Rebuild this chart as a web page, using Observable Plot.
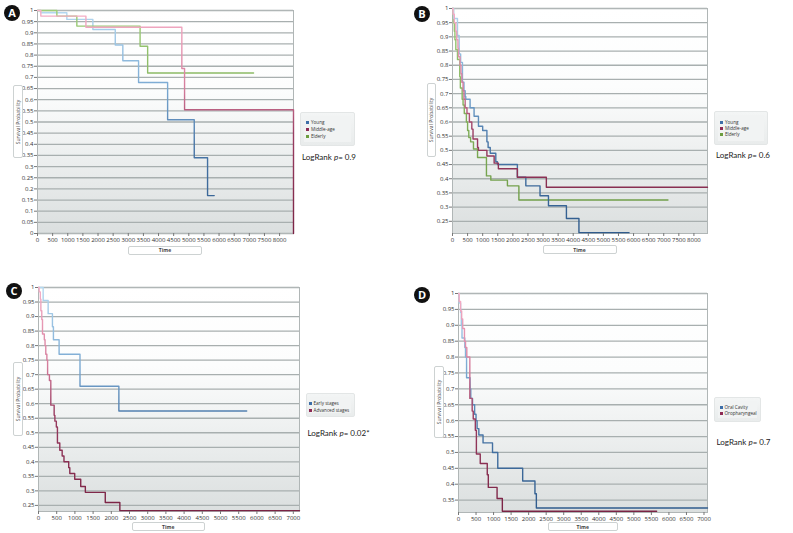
<!DOCTYPE html>
<html><head><meta charset="utf-8">
<script src="https://cdn.jsdelivr.net/npm/d3@7"></script>
<script src="https://cdn.jsdelivr.net/npm/@observablehq/plot@0.6"></script>
<style>
body{margin:0;background:#fff;}
#fig{position:relative;width:793px;height:533px;overflow:hidden;font-family:Lato,"Open Sans",sans-serif;}
.chart{position:absolute;}
.letter{position:absolute;width:16px;height:16px;border-radius:50%;background:#111;color:#fff;font:bold 11px "Open Sans",sans-serif;text-align:center;line-height:16px;}
.ybox,.tbox{position:absolute;border:1px solid #cdd2d2;border-radius:2px;background:#fff;box-sizing:border-box;}
.ybox span{position:absolute;left:50%;top:50%;transform:translate(-50%,-50%) rotate(-90deg);white-space:nowrap;font:5px "Open Sans",sans-serif;color:#444;}
.tbox span{position:absolute;left:0;right:0;top:50%;transform:translateY(-50%);text-align:center;font:bold 5px "Open Sans",sans-serif;color:#444;}
.legend{position:absolute;border:1px solid #e3e6e6;border-radius:2px;background:linear-gradient(#f3f5f5,#e9ecec);box-sizing:border-box;}
.legend .inner{position:absolute;left:3px;right:3px;top:3px;bottom:3px;background:#f1f3f3;}
.item{position:absolute;font:4.6px "Open Sans",sans-serif;color:#333;white-space:nowrap;line-height:5px;}
.item i{display:inline-block;width:3px;height:3px;margin-right:2px;vertical-align:0px;}
.logrank{position:absolute;font:8px Lato,sans-serif;color:#222;white-space:nowrap;}
</style>
</head><body>
<div id="fig"></div>
<script>
// ---- tick values ----
const yTicksA = [0,0.05,0.1,0.15,0.2,0.25,0.3,0.35,0.4,0.45,0.5,0.55,0.6,0.65,0.7,0.75,0.8,0.85,0.9,0.95,1];
const yTicksBC = [0.25,0.3,0.35,0.4,0.45,0.5,0.55,0.6,0.65,0.7,0.75,0.8,0.85,0.9,0.95,1];
const yTicksD = [0.35,0.4,0.45,0.5,0.55,0.6,0.65,0.7,0.75,0.8,0.85,0.9,0.95,1];
const xTicks8000 = [0,500,1000,1500,2000,2500,3000,3500,4000,4500,5000,5500,6000,6500,7000,7500,8000];
const xTicks7000 = [0,500,1000,1500,2000,2500,3000,3500,4000,4500,5000,5500,6000,6500,7000];

// ---- Panel A: age groups ----
const aYoungT  = [0,100,970,1830,2570,2820,3340,4300,5180,5620,5840];
const aYoungS  = [1,0.99,0.96,0.915,0.845,0.775,0.677,0.51,0.34,0.17,0.17];
const aMiddleT = [0,110,1600,4770,4860,8460];
const aMiddleS = [1,0.975,0.925,0.74,0.555,0];
const aElderT  = [0,640,1300,3390,3640,7140];
const aElderS  = [1,0.975,0.93,0.84,0.72,0.72];

// ---- Panel B: age groups ----
const bYoungT  = [0,40,165,220,270,330,380,420,440,583,715,860,1000,1140,1180,1250,1435,1490,2150,2430,2900,3180,3775,4190,5850];
const bYoungS  = [1,0.965,0.905,0.84,0.81,0.74,0.71,0.69,0.68,0.65,0.62,0.585,0.57,0.53,0.51,0.49,0.46,0.45,0.405,0.375,0.34,0.305,0.26,0.21,0.21];
const bMiddleT = [0,20,60,110,140,180,200,250,280,310,350,380,420,480,560,640,680,830,860,1140,1380,1520,2150,3110,8450];
const bMiddleS = [1,0.98,0.95,0.92,0.89,0.86,0.83,0.80,0.77,0.74,0.71,0.68,0.65,0.63,0.60,0.575,0.54,0.51,0.50,0.48,0.455,0.435,0.405,0.37,0.37];
const bElderT  = [0,30,60,80,110,165,240,260,320,350,390,460,500,540,600,695,830,1125,1270,1820,2200,7140];
const bElderS  = [1,0.95,0.92,0.89,0.855,0.82,0.76,0.72,0.68,0.66,0.63,0.60,0.57,0.545,0.53,0.505,0.475,0.41,0.395,0.375,0.325,0.325];

// ---- Panel C: stages ----
const cEarlyT = [0,128,265,383,410,566,1140,2208,5720];
const cEarlyS = [1,0.955,0.91,0.865,0.82,0.77,0.66,0.575,0.575];
const cAdvT   = [0,20,50,65,90,110,160,180,200,230,250,300,338,430,450,490,520,585,650,700,830,860,995,1160,1287,1834,2235,7170];
const cAdvS   = [1,0.985,0.96,0.92,0.89,0.84,0.82,0.80,0.77,0.75,0.70,0.68,0.595,0.56,0.54,0.52,0.465,0.44,0.42,0.40,0.38,0.36,0.34,0.315,0.295,0.26,0.232,0.232];

// ---- Panel D: sites ----
const dOralT = [0,20,60,80,100,180,200,230,330,350,400,460,500,530,580,700,970,1120,1830,2180,2220,7100];
const dOralS = [1,0.97,0.94,0.90,0.86,0.83,0.80,0.735,0.70,0.67,0.65,0.62,0.60,0.575,0.555,0.53,0.50,0.45,0.41,0.37,0.325,0.325];
const dOroT  = [0,20,60,90,120,170,200,237,323,390,420,480,510,620,820,850,1100,1250,5650];
const dOroS  = [1,0.975,0.945,0.92,0.89,0.85,0.83,0.80,0.67,0.63,0.605,0.57,0.495,0.465,0.43,0.39,0.355,0.315,0.315];

const gradStops = {
  blue:   [[0,"#b4d8f0"],[0.35,"#7aa9d2"],[0.6,"#4a77a8"],[1,"#2f5b8c"]],
  maroon: [[0,"#f6b0c8"],[0.35,"#d47d9c"],[0.55,"#9a3d62"],[1,"#7a2344"]],
  green:  [[0,"#9ccc78"],[0.5,"#80ae58"],[1,"#6a9844"]]
};
const fmtY = d => String(+d.toFixed(2));
const fmtX = d => String(d);
const fig = document.getElementById("fig");

function panel(cfg){
  const {id,left,top,width,height,mt,mr,mb,ml,xDomain,yDomain,xTicks,yTicks,series} = cfg;
  const lines = series.map(s => Plot.line(s.t.map((t,i)=>({t, s:s.s[i]})),
      {x:"t", y:"s", curve:"step-after", stroke:`url(#${s.color}-${id})`, strokeWidth:1.4}));
  const svg = Plot.plot({
    width, height, marginTop:mt, marginRight:mr, marginBottom:mb, marginLeft:ml,
    x:{domain:xDomain}, y:{domain:yDomain},
    style:{fontFamily:"'Open Sans',sans-serif", fontSize:"6px", background:"transparent", color:"#333", overflow:"visible"},
    marks:[
      Plot.frame({fill:`url(#bg-${id})`, stroke:null}),
      Plot.gridY(yTicks, {stroke:"#a8afaf", strokeOpacity:1, strokeWidth:1.3}),
      Plot.frame({stroke:"#b0b6b6", strokeWidth:1}),
      ...lines,
      Plot.axisY(yTicks, {tickSize:3, tickPadding:1, tickFormat:fmtY, label:null, fontSize:6, stroke:"#777", fill:"#333"}),
      Plot.axisX(xTicks, {tickSize:3, tickPadding:1, tickFormat:fmtX, label:null, fontSize:6, stroke:"#777", fill:"#333"})
    ]
  });
  const defs = d3.select(svg).insert("defs", ":first-child");
  const y1 = mt, y2 = height - mb;
  const bg = defs.append("linearGradient").attr("id",`bg-${id}`).attr("gradientUnits","userSpaceOnUse")
    .attr("x1",0).attr("x2",0).attr("y1",y1).attr("y2",y2);
  [[0,"#ffffff"],[0.35,"#fcfdfd"],[1,"#dbdfdf"]].forEach(([o,c])=>bg.append("stop").attr("offset",o).attr("stop-color",c));
  for (const [name, stops] of Object.entries(gradStops)) {
    const g = defs.append("linearGradient").attr("id",`${name}-${id}`).attr("gradientUnits","userSpaceOnUse")
      .attr("x1",0).attr("x2",0).attr("y1",y1).attr("y2",y2);
    stops.forEach(([o,c])=>g.append("stop").attr("offset",o).attr("stop-color",c));
  }
  const div = document.createElement("div");
  div.className = "chart";
  div.style.left = left+"px"; div.style.top = top+"px";
  div.appendChild(svg);
  fig.appendChild(div);
}

panel({id:"A", left:0, top:0, width:300, height:245, mt:10, mr:7, mb:12, ml:37,
  xDomain:[0,8460], yDomain:[0,1], xTicks:xTicks8000, yTicks:yTicksA,
  series:[{t:aYoungT,s:aYoungS,color:"blue"},{t:aElderT,s:aElderS,color:"green"},{t:aMiddleT,s:aMiddleS,color:"maroon"}]});
panel({id:"B", left:400, top:0, width:310, height:245, mt:8, mr:3, mb:12, ml:52,
  xDomain:[0,8450], yDomain:[0.207,1], xTicks:xTicks8000, yTicks:yTicksBC,
  series:[{t:bElderT,s:bElderS,color:"green"},{t:bYoungT,s:bYoungS,color:"blue"},{t:bMiddleT,s:bMiddleS,color:"maroon"}]});
panel({id:"C", left:0, top:270, width:305, height:255, mt:17, mr:6, mb:14, ml:38,
  xDomain:[0,7170], yDomain:[0.229,1], xTicks:xTicks7000, yTicks:yTicksBC,
  series:[{t:cEarlyT,s:cEarlyS,color:"blue"},{t:cAdvT,s:cAdvS,color:"maroon"}]});
panel({id:"D", left:400, top:270, width:310, height:255, mt:23, mr:3, mb:13, ml:58,
  xDomain:[0,7100], yDomain:[0.311,1], xTicks:xTicks7000, yTicks:yTicksD,
  series:[{t:dOralT,s:dOralS,color:"blue"},{t:dOroT,s:dOroS,color:"maroon"}]});

// ---- annotations ----
const legendA = ["Young","Middle-age","Elderly"];
const legendB = ["Young","Middle-age","Elderly"];
const legendC = ["Early stages","Advanced stages"];
const legendD = ["Oral Cavity","Oropharyngeal"];
const swatch = ["#3d6ea8","#8e2a55","#6b9d3f"];

function add(html){ fig.insertAdjacentHTML("beforeend", html); }
function letter(ch,cx,cy){ add(`<div class="letter" style="left:${cx-8}px;top:${cy-8}px">${ch}</div>`); }
function ybox(x0,y0,x1,y1){ add(`<div class="ybox" style="left:${x0}px;top:${y0}px;width:${x1-x0}px;height:${y1-y0}px"><span>Survival Probability</span></div>`); }
function tbox(x0,y0,x1,y1){ add(`<div class="tbox" style="left:${x0}px;top:${y0}px;width:${x1-x0}px;height:${y1-y0}px"><span>Time</span></div>`); }
function legend(x0,y0,x1,y1,labels,ys,mx){
  add(`<div class="legend" style="left:${x0}px;top:${y0}px;width:${x1-x0}px;height:${y1-y0}px"><div class="inner"></div></div>`);
  labels.forEach((l,i)=>add(`<div class="item" style="left:${mx}px;top:${ys[i]-2.5}px"><i style="background:${swatch[i]}"></i>${l}</div>`));
}
function logrank(x,cy,val){ add(`<div class="logrank" style="left:${x}px;top:${cy-5.5}px">LogRank <i>p</i>= ${val}</div>`); }

letter("A",12,13); letter("B",422,14); letter("C",14,291); letter("D",422,295);
ybox(12.5,85,22.5,158); ybox(426.5,83,436,157); ybox(12.5,362,22.5,436); ybox(434,366,443.5,438);
tbox(128,245.5,202,255); tbox(542.5,245,616.5,254); tbox(131.5,522,205,531); tbox(547.5,522,618,531);
legend(300,112,355,146,legendA,[122.7,129.5,136.5],306);
legend(714,111,768,145,legendB,[122.7,128.5,134.2],720);
legend(306,393,355,417,legendC,[403.3,410],308.5);
legend(714,397,761,422,legendD,[407.7,413.3],719.5);
logrank(302,157,"0.9"); logrank(716,155,"0.6"); logrank(307.5,433,"0.02*"); logrank(716.5,442.3,"0.7");
</script>
</body></html>
